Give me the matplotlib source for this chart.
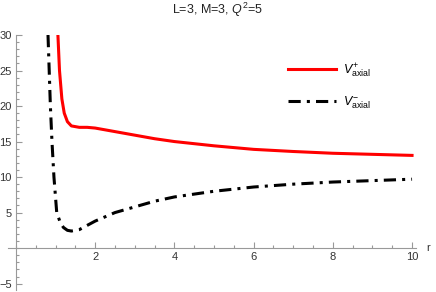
import matplotlib
matplotlib.use("Agg")
import matplotlib.pyplot as plt
from matplotlib.ticker import MultipleLocator

plt.rcParams["font.family"] = ["Liberation Sans", "DejaVu Sans"]
plt.rcParams["mathtext.fontset"] = "custom"
plt.rcParams["mathtext.rm"] = "Liberation Sans"
plt.rcParams["mathtext.it"] = "Liberation Sans:italic"

# values
r_plus = [1.06, 1.10, 1.16, 1.22, 1.30, 1.40, 1.60, 1.80, 2.0, 2.5, 3.0, 3.5, 4.0, 5.0, 6.0, 7.0, 8.0, 9.0, 10.0]
v_plus = [30.0, 25.0, 21.0, 19.0, 17.8, 17.2, 17.0, 17.0, 16.9, 16.4, 15.9, 15.4, 15.0, 14.4, 13.9, 13.6, 13.35, 13.2, 13.05]

r_minus = [0.81, 0.84, 0.87, 0.91, 0.96, 1.03, 1.12, 1.20, 1.30, 1.40, 1.60, 2.0, 2.5, 3.0, 3.5, 4.0, 5.0, 6.0, 7.0, 8.0, 9.0, 10.0]
v_minus = [30.0, 25.0, 20.0, 15.0, 10.0, 5.0, 3.6, 2.9, 2.5, 2.4, 2.6, 3.8, 5.0, 5.8, 6.6, 7.2, 8.0, 8.6, 9.0, 9.3, 9.5, 9.7]

fig = plt.figure(figsize=(4.36, 2.92), dpi=100)
ax = fig.add_axes([8 / 436, 2 / 292, 408 / 436, 255 / 292])

ax.plot(r_plus, v_plus, color="#ff0000", lw=2.2, label=r"$V^{+}_{\mathrm{axial}}$")
ax.plot(r_minus, v_minus, color="black", lw=2.2, dashes=(4, 2, 1, 2),
        label=r"$V^{-}_{\mathrm{axial}}$")

ax.set_xlim(-0.2, 10.1)
ax.set_ylim(-5.9, 30)

for side in ["top", "right"]:
    ax.spines[side].set_visible(False)
for side in ["left", "bottom"]:
    ax.spines[side].set_position("zero")
    ax.spines[side].set_color("#999999")
    ax.spines[side].set_linewidth(0.8)

ax.xaxis.set_minor_locator(MultipleLocator(0.5))
ax.yaxis.set_minor_locator(MultipleLocator(1))
ax.set_xticks([2, 4, 6, 8, 10])
ax.set_yticks([-5, 5, 10, 15, 20, 25, 30])
ax.tick_params(which="both", direction="in", color="#999999", width=0.8,
               labelsize=8, labelcolor="#333333", pad=3)
ax.tick_params(which="major", length=4)
ax.tick_params(which="minor", length=2.2)

ax.text(10.35, 0, "r", fontsize=8, color="#333333", ha="left", va="center")
fig.text(0.5, 1 - 10 / 292, r"L=3, M=3, $Q^2$=5", fontsize=9, color="#222222",
         ha="center", va="center")

ax.legend(loc="upper left", bbox_to_anchor=(283 / 436, 1 - 56 / 292),
          bbox_transform=fig.transFigure, frameon=False, borderaxespad=0,
          fontsize=9, handlelength=3.8, labelspacing=1.2, handletextpad=0.6)

fig.savefig("out.png", dpi=100)
